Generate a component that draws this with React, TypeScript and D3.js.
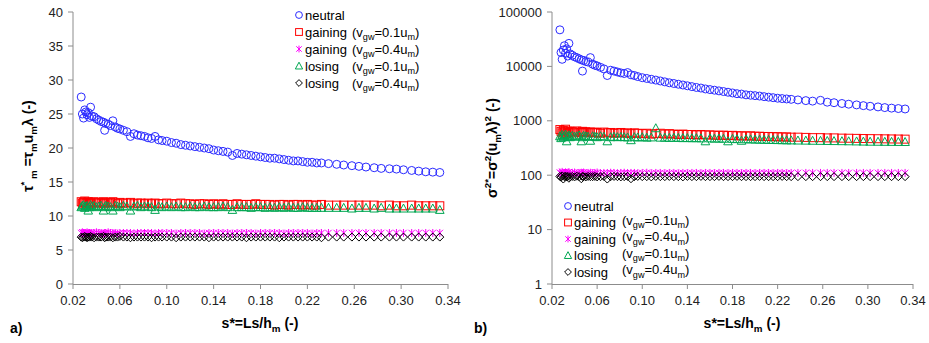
import React from "react";
import * as d3 from "d3";

const FONT = "'Liberation Sans', Arial, sans-serif";

// shared abscissa s* = Ls/h_m
const sValues = [
  0.027, 0.028, 0.029, 0.030, 0.031, 0.032, 0.033, 0.034, 0.035, 0.036,
  0.038, 0.040, 0.042, 0.044, 0.046, 0.047, 0.048, 0.050, 0.052, 0.054,
  0.056, 0.058, 0.060, 0.063, 0.066, 0.069, 0.072, 0.075, 0.078, 0.081,
  0.084, 0.087, 0.090, 0.093, 0.096, 0.100, 0.104, 0.108, 0.112, 0.116,
  0.120, 0.124, 0.128, 0.132, 0.136, 0.140, 0.144, 0.148, 0.152, 0.156,
  0.160, 0.164, 0.168, 0.172, 0.176, 0.180, 0.184, 0.188, 0.192, 0.196,
  0.200, 0.204, 0.208, 0.212, 0.216, 0.220, 0.224, 0.228, 0.232, 0.238,
  0.245, 0.251, 0.258, 0.264, 0.270, 0.277, 0.283, 0.290, 0.296, 0.302,
  0.309, 0.315, 0.321, 0.327, 0.333,
];

// panel a) tau*_m
const tauNeutral = [
  27.5, 25.0, 24.4, 25.6, 25.3, 24.9, 25.2, 24.5, 26.0, 24.7,
  24.6, 24.3, 24.1, 23.9, 23.8, 22.6, 23.6, 23.5, 23.3, 24.0,
  23.1, 22.9, 22.8, 22.6, 22.4, 21.7, 22.1, 21.9, 21.8, 21.7,
  21.5, 21.4, 21.7, 21.2, 21.1, 21.0, 20.8, 20.7, 20.5, 20.4,
  20.3, 20.2, 20.1, 20.0, 19.9, 19.7, 19.6, 19.5, 19.4, 18.9,
  19.2, 19.1, 19.0, 18.9, 18.8, 18.7, 18.6, 18.5, 18.5, 18.4,
  18.3, 18.2, 18.1, 18.1, 18.0, 17.9, 17.9, 17.8, 17.8, 17.7,
  17.6, 17.5, 17.4, 17.3, 17.2, 17.1, 17.0, 16.95, 16.9, 16.8,
  16.7, 16.6, 16.5, 16.45, 16.4,
];
const tauGain01 = [
  12.1, 11.9, 12.0, 12.2, 11.8, 12.0, 12.1, 11.9, 12.0, 11.8,
  12.1, 11.9, 12.0, 11.9, 12.1, 11.8, 12.0, 11.9, 12.0, 12.1,
  11.9, 11.8, 12.0, 11.9, 11.9, 12.0, 11.8, 11.9, 11.9, 11.8,
  11.9, 11.8, 11.9, 11.8, 11.8, 11.9, 11.8, 11.8, 11.9, 11.8,
  11.8, 11.7, 11.8, 11.8, 11.7, 11.8, 11.7, 11.8, 11.7, 11.7,
  11.8, 11.7, 11.7, 11.7, 11.8, 11.7, 11.7, 11.7, 11.6, 11.7,
  11.7, 11.6, 11.7, 11.7, 11.6, 11.7, 11.6, 11.6, 11.7, 11.6,
  11.6, 11.6, 11.6, 11.6, 11.6, 11.6, 11.5, 11.6, 11.5, 11.5,
  11.6, 11.5, 11.5, 11.5, 11.5,
];
const tauGain04 = [
  7.5, 7.6, 7.5, 7.4, 7.5, 7.6, 7.5, 7.5, 7.4, 7.5,
  7.5, 7.6, 7.5, 7.5, 7.4, 7.5, 7.5, 7.6, 7.5, 7.5,
  7.5, 7.4, 7.5, 7.5, 7.5, 7.5, 7.4, 7.5, 7.5, 7.5,
  7.5, 7.5, 7.4, 7.5, 7.5, 7.5, 7.5, 7.4, 7.5, 7.5,
  7.5, 7.5, 7.5, 7.4, 7.5, 7.5, 7.5, 7.5, 7.5, 7.4,
  7.5, 7.5, 7.5, 7.5, 7.4, 7.5, 7.5, 7.5, 7.5, 7.5,
  7.4, 7.5, 7.5, 7.5, 7.5, 7.5, 7.4, 7.5, 7.5, 7.5,
  7.5, 7.5, 7.5, 7.5, 7.5, 7.5, 7.5, 7.5, 7.5, 7.5,
  7.5, 7.5, 7.5, 7.5, 7.5,
];
const tauLose01 = [
  11.3, 11.5, 11.6, 11.2, 11.4, 11.5, 10.8, 11.3, 11.6, 11.4,
  11.5, 11.3, 11.4, 11.5, 10.8, 11.3, 11.5, 11.4, 11.3, 10.8,
  11.5, 11.4, 11.3, 11.5, 11.4, 10.8, 11.4, 11.5, 11.3, 11.4,
  11.4, 11.3, 10.9, 11.4, 11.3, 11.4, 11.3, 11.4, 11.3, 11.3,
  11.4, 11.3, 11.3, 11.4, 11.3, 11.3, 11.3, 11.4, 11.3, 10.9,
  11.3, 11.3, 11.3, 11.2, 11.3, 11.3, 11.2, 11.3, 11.2, 11.3,
  11.2, 11.3, 11.2, 11.2, 11.3, 11.2, 11.2, 11.2, 11.2, 11.2,
  11.2, 11.2, 11.1, 11.2, 11.2, 11.1, 11.2, 11.1, 11.1, 11.1,
  11.1, 11.1, 11.1, 11.1, 10.9,
];
const tauLose04 = [
  6.9, 6.8, 6.9, 7.0, 6.9, 6.8, 6.9, 6.9, 7.0, 6.9,
  6.8, 6.9, 6.9, 6.9, 7.0, 6.8, 6.9, 6.9, 6.9, 6.8,
  6.9, 6.9, 7.0, 6.9, 6.9, 6.8, 6.9, 6.9, 6.9, 6.9,
  6.9, 6.8, 6.9, 6.9, 6.9, 6.9, 6.9, 6.8, 6.9, 6.9,
  6.9, 6.9, 6.9, 6.9, 6.8, 6.9, 6.9, 6.9, 6.9, 6.9,
  6.9, 6.9, 6.8, 6.9, 6.9, 6.9, 6.9, 6.9, 6.9, 6.8,
  6.9, 6.9, 6.9, 6.9, 6.9, 6.9, 6.9, 6.9, 6.8, 6.9,
  6.9, 6.9, 6.9, 6.9, 6.9, 6.9, 6.9, 6.9, 6.9, 6.9,
  6.9, 6.9, 6.9, 6.9, 6.9,
];

// panel b) sigma^2*
const sigNeutral = [
  47000, 18000, 13500, 20000, 24000, 17500, 21000, 15500, 26500, 17000,
  16000, 15000, 14500, 13800, 13200, 8200, 12800, 12300, 12000, 14500,
  11000, 10500, 10200, 9600, 9000, 6800, 8500, 8200, 7900, 7600,
  7400, 7700, 7000, 6800, 6500, 6200, 6000, 5800, 5600, 5400,
  5200, 5000, 4850, 4700, 4550, 4400, 4250, 4100, 4000, 3850,
  3750, 3650, 3550, 3450, 3350, 3250, 3150, 3100, 3000, 2950,
  2900, 2850, 2780, 2720, 2660, 2600, 2560, 2520, 2480, 2420,
  2350, 2300, 2380, 2200, 2150, 2080, 2020, 1960, 1900, 1850,
  1800, 1750, 1710, 1680, 1650,
];
const sigGain01 = [
  690, 640, 600, 660, 620, 700, 580, 650, 610, 640,
  630, 600, 650, 620, 610, 640, 600, 630, 610, 620,
  600, 620, 610, 590, 620, 600, 610, 590, 600, 610,
  590, 600, 580, 600, 590, 580, 590, 570, 580, 590,
  570, 580, 570, 560, 570, 560, 560, 550, 560, 550,
  550, 545, 540, 545, 535, 540, 530, 530, 525, 530,
  520, 520, 515, 515, 510, 510, 505, 505, 500, 500,
  495, 490, 490, 485, 485, 480, 478, 475, 472, 470,
  468, 466, 464, 462, 460,
];
const sigGain04 = [
  112, 108, 115, 110, 106, 112, 109, 111, 114, 108,
  110, 112, 107, 110, 111, 109, 112, 108, 110, 111,
  109, 110, 112, 108, 110, 109, 111, 110, 108, 110,
  111, 109, 110, 110, 108, 110, 111, 109, 110, 110,
  109, 110, 110, 108, 110, 109, 110, 110, 109, 110,
  110, 109, 110, 110, 109, 110, 110, 109, 110, 110,
  109, 110, 110, 110, 109, 110, 110, 109, 110, 110,
  110, 110, 110, 110, 110, 110, 110, 110, 110, 110,
  110, 110, 110, 110, 110,
];
const sigLose01 = [
  520, 480, 550, 500, 530, 560, 420, 510, 540, 500,
  530, 510, 520, 540, 420, 500, 530, 520, 510, 430,
  520, 510, 500, 520, 510, 420, 500, 510, 500, 505,
  500, 495, 440, 500, 495, 500, 490, 495, 730, 490,
  490, 485, 488, 485, 480, 482, 478, 480, 475, 420,
  475, 470, 472, 468, 420, 465, 460, 430, 458, 455,
  452, 450, 448, 446, 444, 442, 440, 438, 436, 434,
  432, 430, 428, 426, 424, 422, 420, 418, 415, 413,
  412, 411, 410, 409, 408,
];
const sigLose04 = [
  95, 92, 97, 85, 94, 96, 93, 95, 88, 94,
  95, 93, 96, 94, 86, 95, 94, 93, 95, 94,
  94, 95, 93, 94, 95, 85, 94, 95, 94, 93,
  94, 95, 86, 94, 95, 94, 94, 93, 95, 94,
  94, 95, 94, 94, 93, 95, 94, 94, 95, 94,
  94, 94, 95, 94, 94, 94, 95, 94, 94, 94,
  94, 95, 94, 94, 94, 94, 95, 94, 94, 94,
  94, 94, 94, 94, 94, 94, 94, 94, 94, 94,
  94, 94, 94, 94, 94,
];

const seriesLabels = ["neutral", "gaining", "gaining", "losing", "losing"];
const seriesVgw = ["", "0.1", "0.4", "0.1", "0.4"];
const seriesColors = ["#2b2bff", "#ff0000", "#ff00ff", "#00a651", "#000000"];
const seriesMarkers = ["circle", "square", "star", "triangle", "diamond"];

const xTicks = [0.02, 0.06, 0.10, 0.14, 0.18, 0.22, 0.26, 0.30, 0.34];
const yTicksA = [0, 5, 10, 15, 20, 25, 30, 35, 40];
const yTicksB = [1, 10, 100, 1000, 10000, 100000];

type Seg = [string, "n" | "sub" | "sup"];

function Rich({ x, y, segs, size, weight, anchor, transform, fill }: any) {
  let cur = 0;
  return (
    <text
      x={x}
      y={y}
      fontFamily={FONT}
      fontSize={size}
      fontWeight={weight || "normal"}
      textAnchor={anchor || "start"}
      transform={transform}
      fill={fill || "#000"}
    >
      {segs.map((s: Seg, i: number) => {
        const target = s[1] === "sub" ? size * 0.3 : s[1] === "sup" ? -size * 0.42 : 0;
        const dy = target - cur;
        cur = target;
        return (
          <tspan key={i} dy={dy} fontSize={s[1] === "n" ? size : size * 0.7}>
            {s[0]}
          </tspan>
        );
      })}
    </text>
  );
}

function Marker({ kind, x, y, color, s = 1 }: any) {
  const common = { fill: "none", stroke: color, strokeWidth: 1 };
  if (kind === "circle") return <circle cx={x} cy={y} r={4 * s} {...common} />;
  if (kind === "square")
    return <rect x={x - 4 * s} y={y - 4 * s} width={8 * s} height={8 * s} {...common} />;
  if (kind === "triangle")
    return (
      <path
        d={`M${x},${y - 4.5 * s}L${x + 4.3 * s},${y + 3.5 * s}L${x - 4.3 * s},${y + 3.5 * s}Z`}
        {...common}
      />
    );
  if (kind === "diamond")
    return (
      <path
        d={`M${x},${y - 4 * s}L${x + 4 * s},${y}L${x},${y + 4 * s}L${x - 4 * s},${y}Z`}
        {...common}
      />
    );
  // star / asterisk
  const a = 3.2 * s;
  return (
    <path
      d={`M${x - a},${y - a}L${x + a},${y + a}M${x - a},${y + a}L${x + a},${y - a}M${x},${y - 4 * s}L${x},${y + 4 * s}`}
      {...common}
    />
  );
}

function Legend({ x, y, step, parenX, parenDy }: any) {
  return (
    <g>
      {seriesLabels.map((lab, i) => {
        const cy = y + i * step;
        return (
          <g key={i}>
            <Marker kind={seriesMarkers[i]} x={x} y={cy} color={seriesColors[i]} s={0.85} />
            <text x={x + 6} y={cy + 4.5} fontFamily={FONT} fontSize={13} fill="#000">
              {lab}
            </text>
            {seriesVgw[i] && (
              <Rich
                x={parenX}
                y={cy + 4.5 + parenDy}
                size={13}
                segs={[
                  ["(v", "n"],
                  ["gw", "sub"],
                  [`=${seriesVgw[i]}u`, "n"],
                  ["m", "sub"],
                  [")", "n"],
                ]}
              />
            )}
          </g>
        );
      })}
    </g>
  );
}

export default function App() {
  const W = 929;
  const H = 343;
  const axisColor = "#8c8c8c";

  const xA = d3.scaleLinear().domain([0.02, 0.34]).range([73, 448]);
  const yA = d3.scaleLinear().domain([0, 40]).range([284, 12]);
  const xB = d3.scaleLinear().domain([0.02, 0.34]).range([552, 913]);
  const yB = d3.scaleLog().domain([1, 100000]).range([284, 12]);

  const fmtX = d3.format(".2f");

  const aSeries = [tauNeutral, tauGain01, tauGain04, tauLose01, tauLose04];
  const bSeries = [sigNeutral, sigGain01, sigGain04, sigLose01, sigLose04];

  const renderPanel = (xs: any, ys: any, series: number[][], yTicks: number[], yFmt: (v: number) => string) => {
    const [x0, x1] = xs.range();
    const [y0, y1] = ys.range();
    return (
      <g>
        {/* axes */}
        <line x1={x0} x2={x0} y1={y1} y2={y0} stroke={axisColor} />
        <line x1={x0} x2={x1} y1={y0 + 0.5} y2={y0 + 0.5} stroke={axisColor} />
        {yTicks.map((t) => (
          <g key={t}>
            <line x1={x0 - 5} x2={x0} y1={ys(t)} y2={ys(t)} stroke={axisColor} />
            <text
              x={x0 - 10}
              y={ys(t) + 4.5}
              textAnchor="end"
              fontFamily={FONT}
              fontSize={13}
              fill="#222"
            >
              {yFmt(t)}
            </text>
          </g>
        ))}
        {xTicks.map((t) => (
          <g key={t}>
            <line x1={xs(t)} x2={xs(t)} y1={y0} y2={y0 + 5} stroke={axisColor} />
            <text
              x={xs(t)}
              y={y0 + 21}
              textAnchor="middle"
              fontFamily={FONT}
              fontSize={13}
              fill="#222"
            >
              {fmtX(t)}
            </text>
          </g>
        ))}
        {/* data */}
        {series.map((vals, si) => (
          <g key={si}>
            {sValues.map((sv, i) =>
              vals[i] === undefined ? null : (
                <Marker
                  key={i}
                  kind={seriesMarkers[si]}
                  x={xs(sv)}
                  y={ys(vals[i])}
                  color={seriesColors[si]}
                />
              )
            )}
          </g>
        ))}
      </g>
    );
  };

  return (
    <svg
      width={W}
      height={H}
      viewBox={`0 0 ${W} ${H}`}
      style={{ position: "absolute", left: 0, top: 0, background: "#fff" }}
    >
      <rect width={W} height={H} fill="#fff" />
      {renderPanel(xA, yA, aSeries, yTicksA, (v) => String(v))}
      {renderPanel(xB, yB, bSeries, yTicksB, (v) => String(v))}

      {/* axis titles */}
      <Rich
        x={260}
        y={328}
        size={14}
        weight="bold"
        anchor="middle"
        segs={[["s*=Ls/h", "n"], ["m", "sub"], [" (-)", "n"]]}
      />
      <Rich
        x={742}
        y={328}
        size={14}
        weight="bold"
        anchor="middle"
        segs={[["s*=Ls/h", "n"], ["m", "sub"], [" (-)", "n"]]}
      />
      <Rich
        x={0}
        y={0}
        size={14}
        weight="bold"
        anchor="middle"
        transform="translate(33,146) rotate(-90)"
        segs={[
          ["τ", "n"],
          ["*", "sup"],
          [" m", "sub"],
          [" =τ", "n"],
          ["m", "sub"],
          ["u", "n"],
          ["m", "sub"],
          ["λ (-)", "n"],
        ]}
      />
      <Rich
        x={0}
        y={0}
        size={14}
        weight="bold"
        anchor="middle"
        transform="translate(497,148) rotate(-90)"
        segs={[
          ["σ", "n"],
          ["2*", "sup"],
          ["=σ", "n"],
          ["2", "sup"],
          ["(u", "n"],
          ["m", "sub"],
          ["λ)", "n"],
          ["2", "sup"],
          [" (-)", "n"],
        ]}
      />

      {/* panel letters */}
      <text x={10} y={333} fontFamily={FONT} fontSize={14} fontWeight="bold">
        a)
      </text>
      <text x={474} y={333} fontFamily={FONT} fontSize={14} fontWeight="bold">
        b)
      </text>

      {/* legends */}
      <Legend x={299} y={15} step={17} parenX={352} parenDy={0} />
      <Legend x={568} y={206} step={16.5} parenX={622} parenDy={-2.5} />
    </svg>
  );
}
